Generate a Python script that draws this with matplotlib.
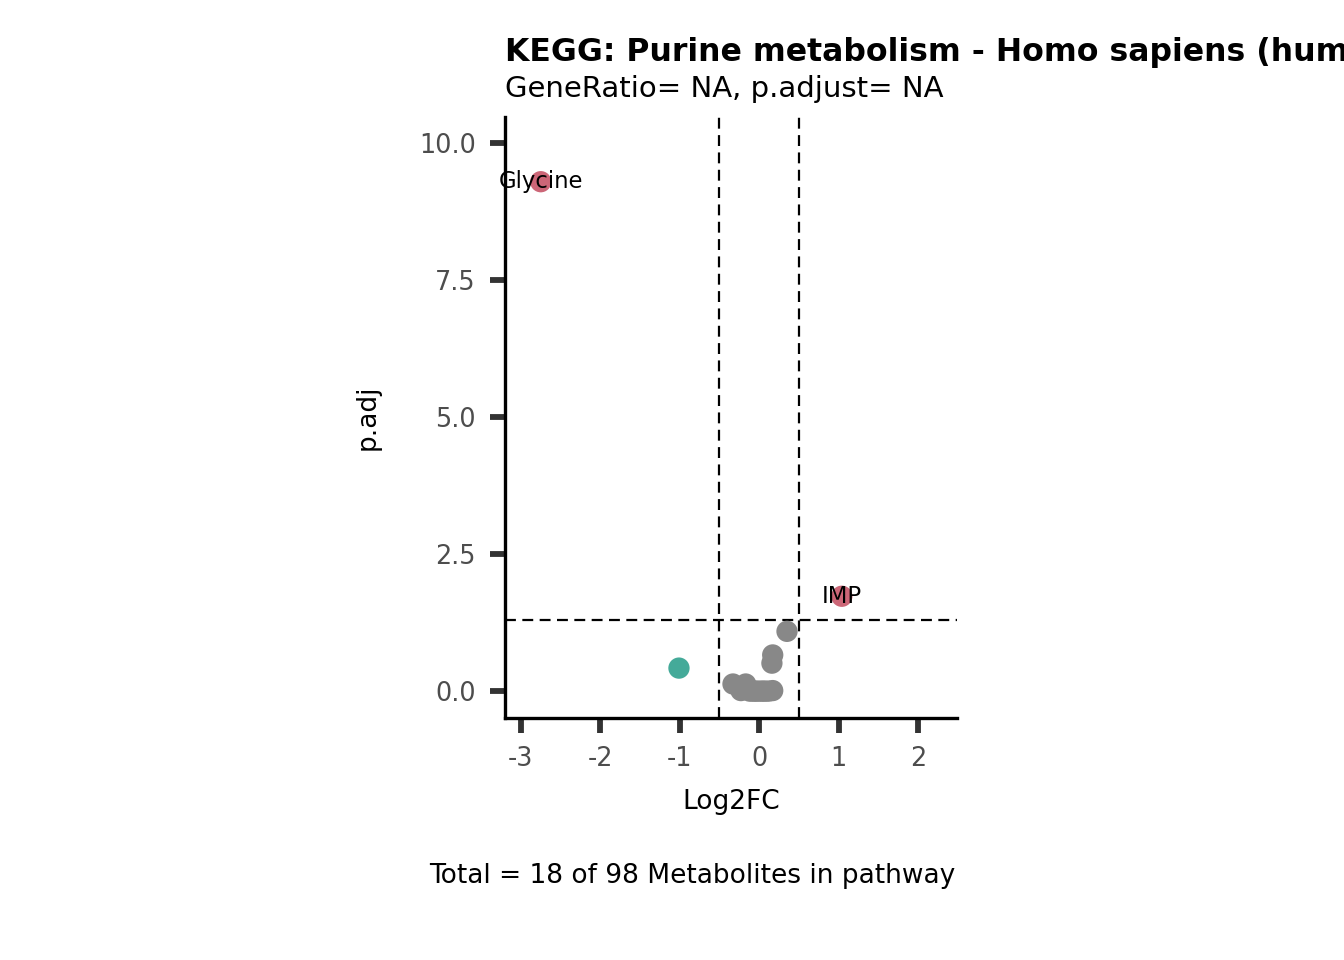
import matplotlib
matplotlib.use("Agg")
import matplotlib.pyplot as plt

# Data
names = ["Glycine", "IMP", "m3", "m4", "m5", "m6", "m7", "m8", "m9", "m10",
         "m11", "m12", "m13", "m14", "m15", "m16", "m17", "m18"]
log2fc = [-2.75, 1.04, -1.01, 0.35, 0.17, 0.16, -0.33, -0.17, -0.23, -0.12,
          -0.05, 0.02, 0.08, 0.17, 0.12, -0.02, 0.05, -0.08]
padj = [9.29, 1.73, 0.42, 1.09, 0.66, 0.51, 0.13, 0.13, 0.01, 0.0,
        0.0, 0.0, 0.0, 0.01, 0.0, 0.0, 0.0, 0.0]
groups = ["up", "up", "down"] + ["ns"] * 15
labelled = ["Glycine", "IMP"]
xticks = [-3, -2, -1, 0, 1, 2]
yticks = [0.0, 2.5, 5.0, 7.5, 10.0]
fc_cut = 0.5
p_cut = 1.3

colors = {"up": "#CC6677", "down": "#44AA99", "ns": "#888888"}

fig = plt.figure(figsize=(13.44, 9.6), dpi=100)
W, H = 1344, 960
ax = fig.add_axes([505 / W, 1 - 718 / H, (957 - 505) / W, (718 - 117) / H])

order = [i for i in range(len(names)) if groups[i] == "ns"] + \
        [i for i in range(len(names)) if groups[i] != "ns"]
for i in order:
    ax.scatter(log2fc[i], padj[i], s=235, color=colors[groups[i]],
               edgecolors="none", zorder=3)

for i, n in enumerate(names):
    if n in labelled:
        ax.text(log2fc[i], padj[i], n, ha="center", va="center",
                fontsize=16.4, color="black", zorder=4)

dash = (0, (4.9, 2.9))
ax.axvline(-fc_cut, color="black", lw=1.6, ls=dash, zorder=2)
ax.axvline(fc_cut, color="black", lw=1.6, ls=dash, zorder=2)
ax.axhline(p_cut, color="black", lw=1.6, ls=dash, zorder=2)

ax.set_xlim(-3.20, 2.49)
ax.set_ylim(-0.49, 10.47)
ax.set_xticks(xticks)
ax.set_xticklabels([str(t) for t in xticks])
ax.set_yticks(yticks)
ax.set_yticklabels([f"{t:.1f}" for t in yticks])

for s in ["top", "right"]:
    ax.spines[s].set_visible(False)
for s in ["left", "bottom"]:
    ax.spines[s].set_linewidth(2.4)
    ax.spines[s].set_color("black")

ax.tick_params(axis="both", length=10.5, width=4.2, color="#333333",
               labelcolor="#4D4D4D", labelsize=18.4)
ax.tick_params(axis="x", pad=10)
ax.tick_params(axis="y", pad=10.5)

ax.set_xlabel("Log2FC", fontsize=19)
ax.set_ylabel("p.adj", fontsize=19)
ax.xaxis.set_label_coords(731 / W, 1 - 802 / H, transform=fig.transFigure)
ax.xaxis.label.set_va("center")
ax.yaxis.set_label_coords(368 / W, 1 - 417 / H, transform=fig.transFigure)
ax.yaxis.label.set_va("center")

fig.text(505 / W, 1 - 52 / H, "KEGG: Purine metabolism - Homo sapiens (human)",
         fontsize=22.7, fontweight="bold", ha="left", va="center")
fig.text(505 / W, 1 - 89 / H, "GeneRatio= NA, p.adjust= NA",
         fontsize=21, ha="left", va="center")
fig.text(692 / W, 1 - 876 / H, "Total = 18 of 98 Metabolites in pathway",
         fontsize=19, ha="center", va="center")

fig.savefig("out.png", dpi=100)
